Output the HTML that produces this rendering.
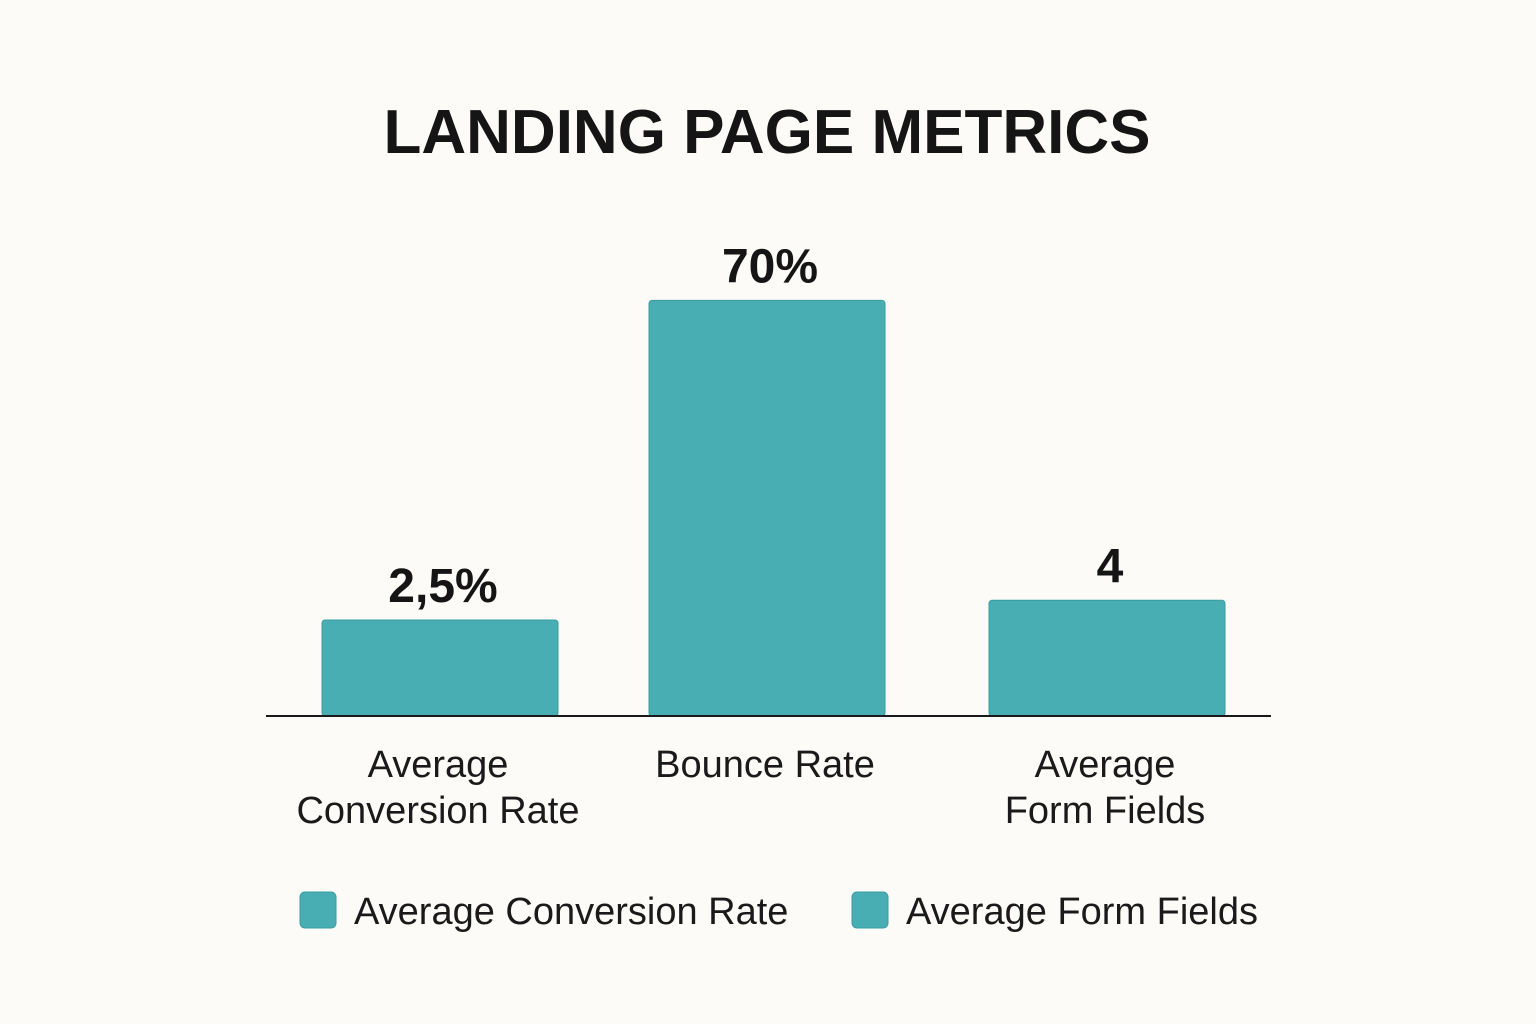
<!DOCTYPE html>
<html><head><meta charset="utf-8"><style>
html,body{margin:0;padding:0;background:#fcfbf7;}
svg{display:block;font-family:"Liberation Sans",sans-serif;}
</style></head><body>
<svg id="chart" width="1536" height="1024" viewBox="0 0 1536 1024">
<rect x="0" y="0" width="1536" height="1024" fill="#fcfbf7"/>
<text x="767" y="153" text-anchor="middle" font-size="62" font-weight="bold" fill="#151515">LANDING PAGE METRICS</text>
<g id="bars"></g>
<line x1="266" y1="716" x2="1271" y2="716" stroke="#1a1a1a" stroke-width="2"/>
<g>
<rect x="300" y="892" width="36" height="36" rx="5" fill="#48aeb3" stroke="#3a9ca1"/>
<text x="354" y="924" font-size="38" fill="#1a1a1a">Average Conversion Rate</text>
<rect x="852" y="892" width="36" height="36" rx="5" fill="#48aeb3" stroke="#3a9ca1"/>
<text x="906" y="924" font-size="38" fill="#1a1a1a">Average Form Fields</text>
</g>
</svg>
<script>
const categories = [["Average","Conversion Rate"],["Bounce Rate"],["Average","Form Fields"]];
const values = [2.5, 70, 4];
const valueLabels = ["2,5%","70%","4"];

const NS = "http://www.w3.org/2000/svg";
const baseY = 716;
const centers = [440, 767, 1107];
const barW = 236;
function xScale(i){ return centers[i]; }
function yScale(v){ return baseY - (21.5 + 47.1*Math.sqrt(Math.max(0,v))); }
const g = document.getElementById("bars");
values.forEach((v,i)=>{
  const top = yScale(v);
  const r = document.createElementNS(NS,"rect");
  
  
  r.setAttribute("x", xScale(i)-barW/2);
  r.setAttribute("y", top);
  r.setAttribute("width", barW);
  r.setAttribute("height", baseY-top);
  r.setAttribute("rx", 3);
  r.setAttribute("fill", "#48aeb3");
  r.setAttribute("stroke", "#3a9ca1");
  g.appendChild(r);
  const t = document.createElementNS(NS,"text");
  
  
  t.setAttribute("x", xScale(i)+3);
  t.setAttribute("y", top-18);
  t.setAttribute("text-anchor","middle");
  t.setAttribute("font-size","48");
  t.setAttribute("font-weight","bold");
  t.setAttribute("fill","#151515");
  t.textContent = valueLabels[i];
  g.appendChild(t);
  categories[i].forEach((line,j)=>{
    const c = document.createElementNS(NS,"text");
    
    
    c.setAttribute("x", xScale(i)-2);
    c.setAttribute("y", 777 + j*46);
    c.setAttribute("text-anchor","middle");
    c.setAttribute("font-size","38");
    c.setAttribute("fill","#1a1a1a");
    c.textContent = line;
    g.appendChild(c);
  });
});
</script>
</body></html>
